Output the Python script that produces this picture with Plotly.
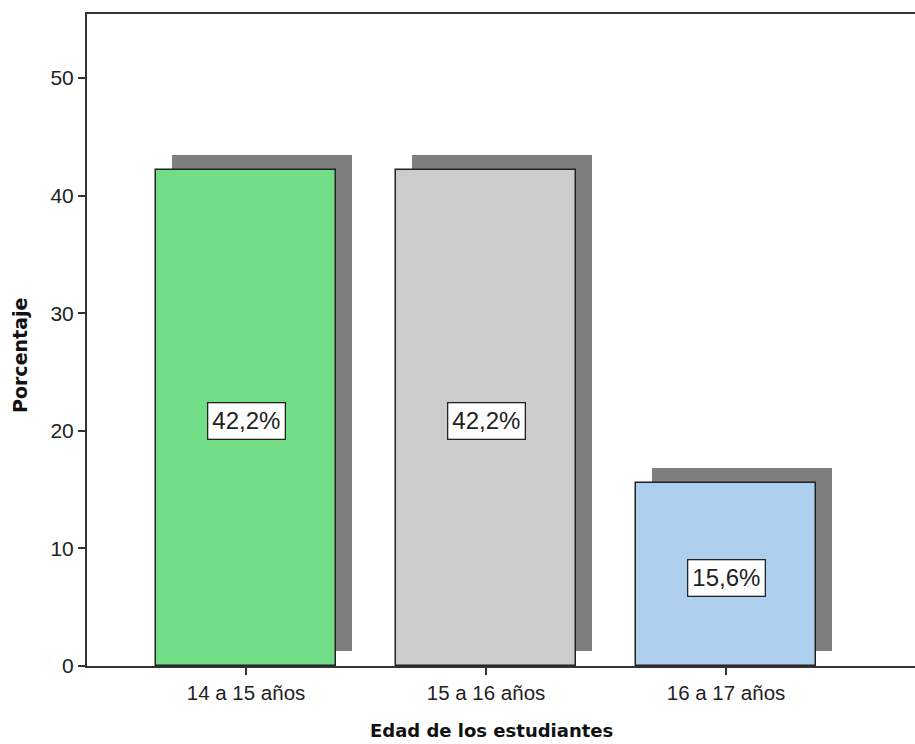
import plotly.graph_objects as go

categories = ["14 a 15 años", "15 a 16 años", "16 a 17 años"]
values = [42.2, 42.2, 15.6]
labels = ["42,2%", "42,2%", "15,6%"]
colors = ["#71DD86", "#CCCCCC", "#AED0EE"]
y_ticks = [0, 10, 20, 30, 40, 50]

bar_w = 0.75
shadow_dx = 0.065
shadow_dy = 1.25

fig = go.Figure()
# shadow bars
fig.add_trace(go.Bar(
    x=categories, y=values, base=[shadow_dy] * len(values),
    width=bar_w, offset=-bar_w / 2 + shadow_dx,
    marker=dict(color="#7F7F7F", line=dict(width=0)),
    hoverinfo="skip", showlegend=False,
))
# main bars
fig.add_trace(go.Bar(
    x=categories, y=values,
    width=bar_w, offset=-bar_w / 2,
    marker=dict(color=colors, line=dict(color="#222", width=1.5)),
    showlegend=False,
))

for c, v, t in zip(categories, values, labels):
    fig.add_annotation(
        x=c, y=v / 2, text=t, showarrow=False, yshift=-3.5,
        font=dict(family="Liberation Sans, Arial", size=24, color="#222"),
        bgcolor="white", bordercolor="#222", borderwidth=1.3, borderpad=4,
    )

fig.add_annotation(
    xref="paper", yref="paper", x=0.488, y=0, yshift=-64,
    yanchor="middle", xanchor="center", showarrow=False,
    text="<b>Edad de los estudiantes</b>",
    font=dict(family="DejaVu Sans", size=18, color="#111"),
)
fig.add_annotation(
    xref="paper", yref="paper", x=0, y=0.4755, xshift=-67,
    xanchor="center", yanchor="middle", showarrow=False, textangle=-90,
    text="<b>Porcentaje</b>",
    font=dict(family="DejaVu Sans", size=19, color="#111"),
)

fig.update_layout(
    width=915, height=744,
    margin=dict(l=87, r=0, t=14, b=78),
    plot_bgcolor="white", paper_bgcolor="white",
    barmode="overlay",
    bargap=0,
    font=dict(family="Liberation Sans, Arial", color="#222"),
)
fig.update_xaxes(
    type="category", range=[-0.6625, 2.7875],
    showline=True, linecolor="#333", linewidth=2, mirror=True,
    ticks="outside", ticklen=7, tickwidth=2, tickcolor="#333",
    tickfont=dict(size=20.5, family="Liberation Sans, Arial", color="#222"),
    showgrid=False,
)
fig.update_yaxes(
    range=[0, 55.45], tickvals=y_ticks,
    showline=True, linecolor="#333", linewidth=2,
    ticks="outside", ticklen=7, tickwidth=2, tickcolor="#333",
    tickfont=dict(size=21, family="Liberation Sans, Arial", color="#222"),
    showgrid=False, zeroline=False,
)

fig.write_html("out.html")
